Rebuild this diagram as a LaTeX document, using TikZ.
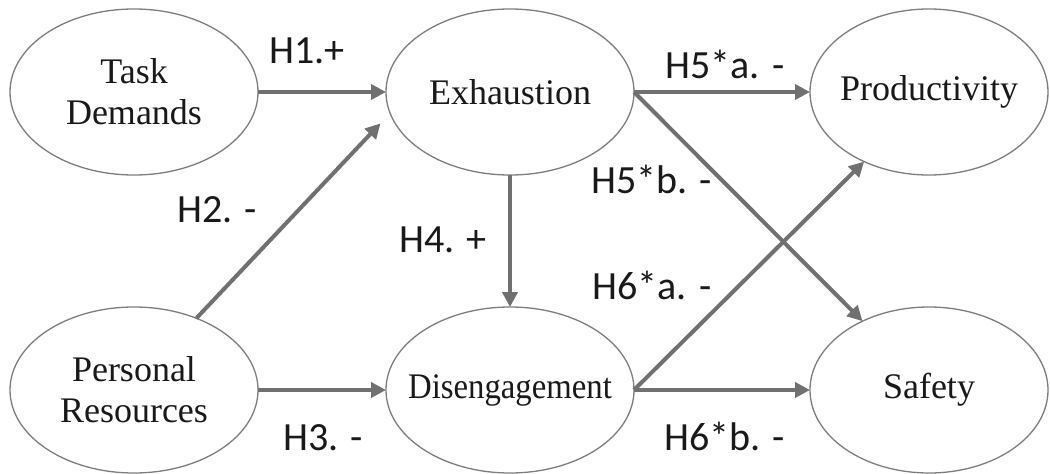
\documentclass[tikz,border=0pt]{standalone}
\usepackage{graphicx}
\usepackage{fontspec}
\setmainfont{Liberation Serif}
\newfontfamily\lblfont{Carlito}
\usetikzlibrary{shapes.geometric,arrows.meta}
\definecolor{ellgray}{RGB}{125,125,125}
\definecolor{arrgray}{RGB}{112,112,112}
\definecolor{txt}{RGB}{25,25,25}
\newcommand{\fitbox}[1]{\makebox[110pt]{#1}}
\begin{document}
\begin{tikzpicture}[x=1pt,y=-1pt,
  latent/.style={ellipse,draw=ellgray,line width=1.3pt,minimum width=248pt,minimum height=166pt,
    inner sep=0pt,outer sep=0pt,align=center,font=\fontsize{36}{41}\selectfont,text=txt},
  hpath/.style={draw=arrgray,line width=4pt,-{Triangle[length=15pt,width=15pt]}},
  hyp/.style={font=\lblfont\fontsize{40}{44}\selectfont,text=txt,inner sep=0pt}]
\useasboundingbox (0,0) rectangle (1050,474);
\fill[white] (0,0) rectangle (1050,474);
\node[latent] (td) at (134,92) {Task\\Demands};
\node[latent] (ex) at (510,92) {Exhaustion};
\node[latent,minimum width=238pt] (prod) at (929,92) {\fitbox{Productivity}};
\node[latent] (pr) at (134,390) {Personal\\Resources};
\node[latent] (dis) at (510,390) {\fitbox{\scalebox{0.91}[1]{Disengagement}}};
\node[latent,minimum width=238pt] (saf) at (929,390) {Safety};

\draw[hpath] (td.east) -- (ex.west);
\draw[hpath,shorten >=14pt] (pr.49) -- (ex.190);
\draw[hpath] (pr.east) -- (dis.west);
\draw[hpath] (ex.south) -- (dis.north);
\draw[hpath] (ex.east) -- (prod.west);
\draw[hpath] (ex.east) -- (saf.134);
\draw[hpath] (dis.east) -- (prod.227);
\draw[hpath] (dis.east) -- (saf.west);

\node[hyp] (l1) at (307,51) {H1.+};
\node[hyp] (l2) at (217,210) {H2. -};
\node[hyp] (l3) at (323,438) {H3. -};
\node[hyp] (l4) at (443,240) {H4. +};
\node[hyp] (l5a) at (725,64) {H5*a. -};
\node[hyp] (l5b) at (652,179) {H5*b. -};
\node[hyp] (l6a) at (652,285) {H6*a. -};
\node[hyp] (l6b) at (725,436) {H6*b. -};
\end{tikzpicture}
\end{document}
